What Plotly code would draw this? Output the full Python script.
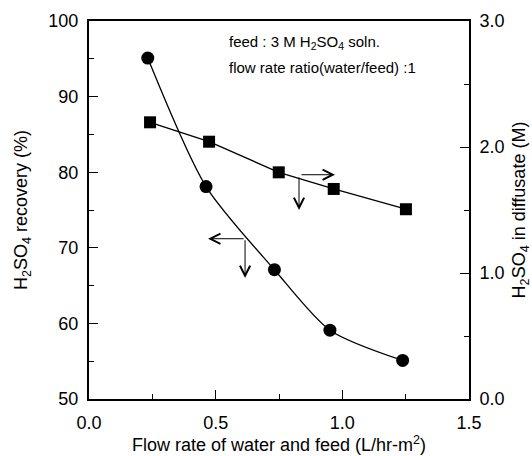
import plotly.graph_objects as go

# data
flow_rec = [0.232, 0.462, 0.732, 0.951, 1.238]
recovery = [95.1, 78.1, 67.1, 59.1, 55.1]
flow_conc = [0.241, 0.474, 0.749, 0.966, 1.251]
conc = [2.196, 2.042, 1.799, 1.667, 1.506]

x_ticks = [0.0, 0.5, 1.0, 1.5]
x_tick_text = ["0.0", "0.5", "1.0", "1.5"]
y_ticks = [50, 60, 70, 80, 90, 100]
y2_ticks = [0.0, 1.0, 2.0, 3.0]
y2_tick_text = ["0.0", "1.0", "2.0", "3.0"]

FONT = "Arial, Liberation Sans, sans-serif"

fig = go.Figure()
fig.add_trace(go.Scatter(
    x=flow_rec, y=recovery, mode="lines+markers",
    line=dict(color="black", width=1.3, shape="spline", smoothing=0.75),
    marker=dict(symbol="circle", size=13, color="black"),
    yaxis="y", showlegend=False))
fig.add_trace(go.Scatter(
    x=flow_conc, y=conc, mode="lines+markers",
    line=dict(color="black", width=1.3),
    marker=dict(symbol="square", size=12, color="black"),
    yaxis="y2", showlegend=False))

axis_common = dict(
    showgrid=False, zeroline=False, showline=True, linecolor="black", linewidth=2,
    ticks="inside", ticklen=9, tickwidth=1.3, tickcolor="black", automargin=False,
    tickfont=dict(family=FONT, size=18, color="black"),
)

fig.update_layout(
    width=532, height=456,
    margin=dict(l=89, r=63, t=21, b=57),
    paper_bgcolor="white", plot_bgcolor="white",
    font=dict(family=FONT, color="black"),
    xaxis=dict(
        range=[0, 1.5], tickvals=x_ticks, ticktext=x_tick_text, mirror=True,
        ticklabelstandoff=6,
        minor=dict(ticks="inside", ticklen=5, tickwidth=1, tickcolor="black", dtick=0.25),
        title=dict(text="Flow rate of water and feed (L/hr-m<sup>2</sup>)",
                   font=dict(family=FONT, size=18), standoff=6),
        **axis_common),
    yaxis=dict(
        range=[50, 100], tickvals=y_ticks, ticklabelstandoff=5,
        minor=dict(ticks="inside", ticklen=5, tickwidth=1, tickcolor="black", dtick=5),
        title=dict(text="H<sub>2</sub>SO<sub>4</sub> recovery (%)",
                   font=dict(family=FONT, size=18), standoff=16),
        **axis_common),
    yaxis2=dict(
        range=[0, 3], tickvals=y2_ticks, ticktext=y2_tick_text, ticklabelstandoff=5,
        overlaying="y", side="right",
        minor=dict(ticks="inside", ticklen=5, tickwidth=1, tickcolor="black", dtick=0.5),
        title=dict(text="H<sub>2</sub>SO<sub>4</sub> in diffusate (M)",
                   font=dict(family=FONT, size=18), standoff=11),
        **axis_common),
)

# text annotations
fig.add_annotation(xref="paper", yref="paper", x=0.363, y=0.942, xanchor="left", yanchor="middle",
                   text="feed : 3 M H<sub>2</sub>SO<sub>4</sub> soln.", showarrow=False,
                   font=dict(family=FONT, size=15, color="black"))
fig.add_annotation(xref="paper", yref="paper", x=0.363, y=0.878, xanchor="left", yanchor="middle",
                   text="flow rate ratio(water/feed) :1", showarrow=False,
                   font=dict(family=FONT, size=15, color="black"))

# arrows
arrow_style = dict(showarrow=True, text="", arrowhead=5, arrowsize=2, arrowwidth=1, arrowcolor="black")
# left-axis indicator (recovery)
fig.add_annotation(x=0.470, y=71.2, ax=0.616, ay=71.2, xref="x", yref="y", axref="x", ayref="y", **arrow_style)
fig.add_annotation(x=0.616, y=66.0, ax=0.616, ay=71.2, xref="x", yref="y", axref="x", ayref="y", **arrow_style)
# right-axis indicator (concentration)
fig.add_annotation(x=0.971, y=1.78, ax=0.833, ay=1.78, xref="x", yref="y2", axref="x", ayref="y2", **arrow_style)
fig.add_annotation(x=0.829, y=1.50, ax=0.829, ay=1.77, xref="x", yref="y2", axref="x", ayref="y2", **arrow_style)

fig.write_html("out.html")
